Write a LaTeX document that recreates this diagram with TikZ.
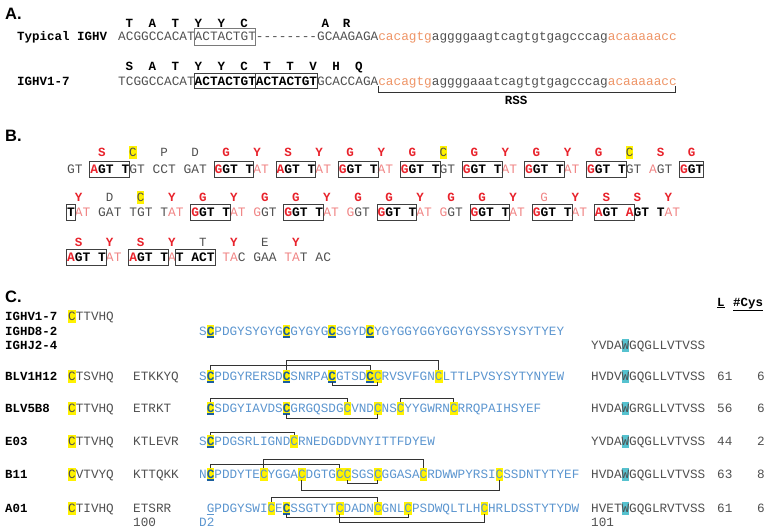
\documentclass[tikz,border=0pt]{standalone}
\usepackage{fontspec}
\usepackage{tikz}
\usetikzlibrary{positioning}
\newfontfamily\seqfont{Liberation Mono}
\newfontfamily\panelfont{Liberation Sans}

\definecolor{seqgray}{HTML}{505050}
\definecolor{rssorange}{HTML}{EE9466}
\definecolor{aared}{HTML}{E8222B}
\definecolor{ntpink}{HTML}{F08585}
\definecolor{hlyellow}{HTML}{FFF200}
\definecolor{hlcyan}{HTML}{56C2CF}
\definecolor{seqblue}{HTML}{5B95CF}
\definecolor{cysblue}{HTML}{1B5E9E}
\definecolor{boxgray}{HTML}{7A7A7A}

% nucleotide colouring
\newcommand\ntg[1]{\textcolor{seqgray}{#1}}
\newcommand\ntk[1]{\textcolor{black}{\bfseries #1}}
\newcommand\ntr[1]{\textcolor{aared}{\bfseries #1}}
\newcommand\ntp[1]{\textcolor{ntpink}{#1}}
\newcommand\nto[1]{\textcolor{rssorange}{#1}}
% highlighted residues
\newcommand\hlbox[2]{\makebox[0pt][l]{\textcolor{#1}{\rule[-0.2em]{0.6em}{1em}}}#2}
\newcommand\cyg{\hlbox{hlyellow}{C}}
\newcommand\cgl{\hlbox{hlyellow}{\makebox[0pt][l]{\textcolor{cysblue}{\rule[-0.24em]{0.6em}{0.14em}}}\textcolor{cysblue}{\bfseries C}}}
\newcommand\wtr{\hlbox{hlcyan}{W}}
\newcommand\ulg{\makebox[0pt][l]{\rule[-0.24em]{0.6em}{0.08em}}G}
% disulfide bond between residues i and j of panel C
\newcommand\ssbond[4]{\draw[bond] ({199+(#1+0.5)*7.6},#3) |- ({199+(#2+0.5)*7.6},#4) -- ({199+(#2+0.5)*7.6},#3);}

\tikzset{
  panel/.style={font=\panelfont\bfseries\fontsize{16.5}{18}\selectfont, anchor=west, inner sep=0pt},
  lblA/.style={font=\seqfont\bfseries\fontsize{12.5}{14}\selectfont, anchor=base west, inner sep=0pt},
  seqA/.style={font=\seqfont\fontsize{12.75}{14}\selectfont, text=seqgray, anchor=base west, inner sep=0pt},
  aaA/.style={font=\seqfont\bfseries\fontsize{12.5}{14}\selectfont, anchor=base, inner sep=0pt},
  seqB/.style={font=\seqfont\fontsize{12.93}{14}\selectfont, text=seqgray, anchor=base west, inner sep=0pt},
  aag/.style={font=\seqfont\fontsize{12.5}{14}\selectfont, text=seqgray, anchor=base, inner sep=0pt},
  aar/.style={font=\seqfont\bfseries\fontsize{12.5}{14}\selectfont, text=aared, anchor=base, inner sep=0pt},
  aap/.style={aag, text=ntpink},
  aac/.style={aag},
  cname/.style={font=\seqfont\bfseries\fontsize{12.4}{14}\selectfont, anchor=base west, inner sep=0pt},
  cgr/.style={font=\seqfont\fontsize{12.67}{14}\selectfont, text=seqgray, anchor=base west, inner sep=0pt},
  cseq/.style={cgr, text=seqblue},
  ntbox/.style={draw=black!75, line width=0.8pt},
  bond/.style={draw=black!80, line width=0.9pt},
}

\begin{document}
\begin{tikzpicture}[x=1pt,y=-1pt]
  \useasboundingbox (0,0) rectangle (767,530);

  % A.
  \node[panel] (pnlA) at (5,14) {A.};
  \node[lblA] (typ) at (17,40) {Typical IGHV};
  \node[seqA] (typseq) at (118,40) {ACGGCCACATACTACTGT-{}-{}-{}-{}-{}-{}-{}-GCAAGAGA\nto{cacagtg}aggggaagtcagtgtgagcccag\nto{acaaaaacc}};
  \foreach \i/\a [count=\n] in {1/T,4/A,7/T,10/Y,13/Y,16/C,26.6/A,29.4/R}
    \node[aaA] (typaa\n) at ({118+(\i+0.5)*7.65},27) {\a};
  \draw[draw=boxgray, line width=0.6pt] ({118+10*7.65},28) rectangle ({118+18*7.65},45);

  \node[lblA] (v17) at (17,85) {IGHV1-7};
  \node[seqA] (v17seq) at (118,85) {TCGGCCACAT\ntk{ACTACTGTACTACTGT}GCACCAGA\nto{cacagtg}aggggaaatcagtgtgagcccag\nto{acaaaaacc}};
  \foreach \a [count=\n] in {S,A,T,Y,Y,C,T,T,V,H,Q}
    \node[aaA] (v17aa\n) at ({118+(3*\n-1.5)*7.65},70) {\a};
  \draw[ntbox] ({118+10*7.65},73) rectangle ({118+18*7.65},88);
  \draw[ntbox] ({118+18*7.65},73) rectangle ({118+26*7.65},88);
  \draw[bond] (378,86) |- (675,92) -- (675,86);
  \node[lblA, anchor=base] (rss) at (516,104) {RSS};

  % B.
  \node[panel] (pnlB) at (5,136) {B.};
  \node[seqB] (brow1) at (67,173) {\ntg{GT} \ntr{A}\ntk{GT T}\ntg{GT CCT GAT} \ntr{G}\ntk{GT T}\ntp{AT} \ntr{A}\ntk{GT T}\ntp{AT} \ntr{G}\ntk{GT T}\ntp{AT} \ntr{G}\ntk{GT T}\ntg{GT} \ntr{G}\ntk{GT T}\ntp{AT} \ntr{G}\ntk{GT T}\ntp{AT} \ntr{G}\ntk{GT T}\ntg{GT} \ntp{A}\ntg{GT} \ntr{G}\ntk{GT}};
  \foreach \k/\a/\s in {0/S/r,1/\cyg/c,2/P/g,3/D/g,4/G/r,5/Y/r,6/S/r,7/Y/r,8/G/r,9/Y/r,10/G/r,11/\cyg/c,12/G/r,13/Y/r,14/G/r,15/Y/r,16/G/r,17/\cyg/c,18/S/r,19/G/r}
    \node[aa\s] (b1aa\k) at ({67+(4*\k+4.5)*7.76},156) {\a};
  \foreach \i/\j in {3/8,19/24,27/32,35/40,43/48,51/56,59/64,67/72,79/82}
    \draw[ntbox] ({67+\i*7.76-0.5},161) rectangle ({67+\j*7.76+0.5},177);

  \node[seqB] (brow2) at (67,216) {\ntk{T}\ntp{AT} \ntg{GAT TGT T}\ntp{AT} \ntr{G}\ntk{GT T}\ntp{AT} \ntp{G}\ntg{GT} \ntr{G}\ntk{GT T}\ntp{AT} \ntp{G}\ntg{GT} \ntr{G}\ntk{GT T}\ntp{AT} \ntp{G}\ntg{GT} \ntr{G}\ntk{GT T}\ntp{AT} \ntr{G}\ntk{GT T}\ntp{AT} \ntr{A}\ntk{GT }\ntr{A}\ntk{GT T}\ntp{AT}};
  \foreach \k/\a/\s in {0/Y/r,1/D/g,2/\cyg/c,3/Y/r,4/G/r,5/Y/r,6/G/r,7/G/r,8/Y/r,9/G/r,10/G/r,11/Y/r,12/G/r,13/G/r,14/Y/r,15/G/p,16/Y/r,17/S/r,18/S/r,19/Y/r}
    \node[aa\s] (b2aa\k) at ({67+(4*\k+1.5)*7.76},201) {\a};
  \foreach \i/\j in {0/1,16/21,28/33,40/45,52/57,60/65,68/73}
    \draw[ntbox] ({67+\i*7.76-0.5},204) rectangle ({67+\j*7.76+0.5},220);

  \node[seqB] (brow3) at (67,261) {\ntr{A}\ntk{GT T}\ntp{AT} \ntr{A}\ntk{GT T}\ntp{A}\ntk{T ACT} \ntp{TA}\ntg{C GAA} \ntp{TA}\ntg{T AC}};
  \foreach \k/\a/\s in {0/S/r,1/Y/r,2/S/r,3/Y/r,4/T/g,5/Y/r,6/E/g,7/Y/r}
    \node[aa\s] (b3aa\k) at ({67+(4*\k+1.5)*7.76},246) {\a};
  \foreach \i/\j in {0/5,8/13,14/19}
    \draw[ntbox] ({67+\i*7.76-0.5},249) rectangle ({67+\j*7.76+0.5},265);

  % C.
  \node[panel] (pnlC) at (5,297) {C.};
  \node[cname] (hdL) at (717,306) {\underline{L}};
  \node[cname] (hdCys) at (733,306) {\underline{\#Cys}};

  \node[cname] (gV) at (5,320) {IGHV1-7};
  \node[cgr] (gVseq) at (68,320) {\cyg TTVHQ};
  \node[cname] (gD) at (5,335) {IGHD8-2};
  \node[cseq] (gDseq) at (199,335) {S\cgl PDGYSYGYG\cgl GYGYG\cgl SGYD\cgl YGYGGYGGYGGYGYSSYSYSYTYEY};
  \node[cname] (gJ) at (5,349) {IGHJ2-4};
  \node[cgr] (gJseq) at (591,349) {YVDA\wtr GQGLLVTVSS};

  \node[cname] (ab1) at (5,380) {BLV1H12};
  \node[cgr] (ab1v) at (68,380) {\cyg TSVHQ};
  \node[cgr] (ab1d) at (133,380) {ETKKYQ};
  \node[cseq] (ab1s) at (199,380) {S\cgl PDGYRERSD\cgl SNRPA\cgl GTSD\cgl\cyg RVSVFGN\cyg LTTLPVSYSYTYNYEW};
  \node[cgr] (ab1j) at (591,380) {HVDV\wtr GQGLLVTVSS};
  \node[cgr] (ab1l) at (717,380) {61};
  \node[cgr] (ab1c) at (757,380) {6};
  \ssbond{11}{31}{370}{360}
  \ssbond{1}{22}{370}{365}
  \ssbond{17}{23}{382}{385}

  \node[cname] (ab2) at (5,412) {BLV5B8};
  \node[cgr] (ab2v) at (68,412) {\cyg TTVHQ};
  \node[cgr] (ab2d) at (133,412) {ETRKT};
  \node[cseq] (ab2s) at (206.6,412) {\cgl SDGYIAVDS\cgl GRGQSDG\cyg VND\cyg NS\cyg YYGWRN\cyg RRQPAIHSYEF};
  \node[cgr] (ab2j) at (591,412) {HVDA\wtr GRGLLVTVSS};
  \node[cgr] (ab2l) at (717,412) {56};
  \node[cgr] (ab2c) at (757,412) {6};
  \ssbond{1}{19}{402}{398}
  \ssbond{26}{33}{402}{398}
  \ssbond{11}{23}{414}{418}

  \node[cname] (ab3) at (5,445) {E03};
  \node[cgr] (ab3v) at (68,445) {\cyg TTVHQ};
  \node[cgr] (ab3d) at (133,445) {KTLEVR};
  \node[cseq] (ab3s) at (199,445) {S\cgl PDGSRLIGND\cyg RNEDGDDVNYITTFDYEW};
  \node[cgr] (ab3j) at (591,445) {YVDA\wtr GQGLLVTVSS};
  \node[cgr] (ab3l) at (717,445) {44};
  \node[cgr] (ab3c) at (757,445) {2};
  \ssbond{1}{12}{435}{432}

  \node[cname] (ab4) at (5,478) {B11};
  \node[cgr] (ab4v) at (68,478) {\cyg VTVYQ};
  \node[cgr] (ab4d) at (133,478) {KTTQKK};
  \node[cseq] (ab4s) at (199,478) {N\cgl PDDYTE\cyg YGGA\cyg DGTG\cyg\cyg SGS\cyg GGASA\cyg RDWWPYRSI\cyg SSDNTYTYEF};
  \node[cgr] (ab4j) at (591,478) {HVDA\wtr GQGLLVTVSS};
  \node[cgr] (ab4l) at (717,478) {63};
  \node[cgr] (ab4c) at (757,478) {8};
  \ssbond{8}{29}{468}{459}
  \ssbond{1}{18}{468}{464}
  \ssbond{19}{23}{480}{483}
  \ssbond{13}{39}{480}{490}

  \node[cname] (ab5) at (5,512) {A01};
  \node[cgr] (ab5v) at (68,512) {\cyg TIVHQ};
  \node[cgr] (ab5d) at (133,512) {ETSRR};
  \node[cseq] (ab5s) at (206.6,512) {\ulg PDGYSWI\cyg E\cgl SSGTYT\cyg DADN\cyg GNL\cyg PSDWQLTLH\cyg HRLDSSTYTYDW};
  \node[cgr] (ab5j) at (591,512) {HVET\wtr GQGLRVTVSS};
  \node[cgr] (ab5l) at (717,512) {61};
  \node[cgr] (ab5c) at (757,512) {6};
  \ssbond{9}{23}{502}{497}
  \ssbond{11}{27}{514}{517}
  \ssbond{18}{37}{514}{522}
  \node[cgr] (pos100) at (133,526) {100};
  \node[cseq] (posD2) at (199,526) {D2};
  \node[cgr] (pos101) at (591,526) {101};
\end{tikzpicture}
\end{document}
